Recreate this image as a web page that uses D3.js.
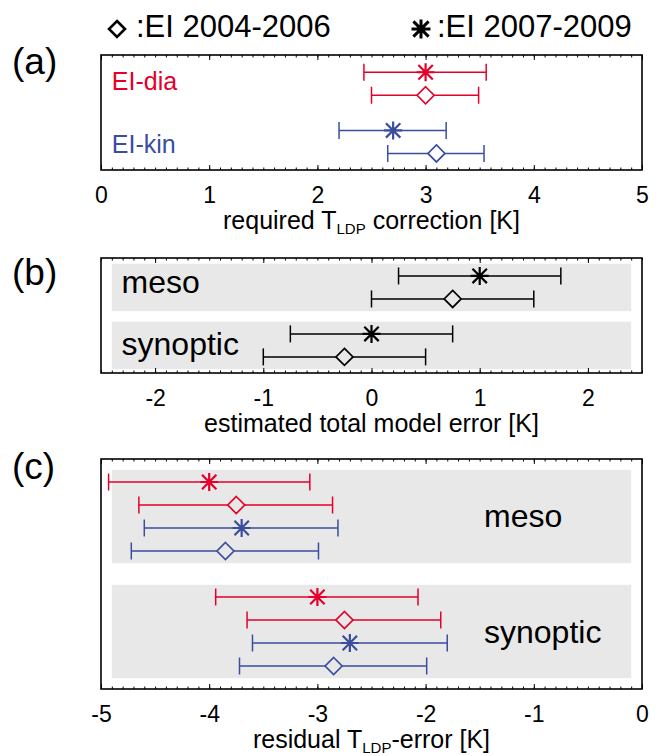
<!DOCTYPE html>
<html>
<head>
<meta charset="utf-8">
<script src="https://cdn.jsdelivr.net/npm/d3@7"></script>
<style>
  html, body { margin: 0; padding: 0; background: #fff; }
  svg { display: block; font-family: "Liberation Sans", Arial, Helvetica, sans-serif; }
</style>
</head>
<body>
<svg id="chart" width="660" height="756"></svg>
<script>
// ---------------- data ----------------
const periodDia = "EI 2004-2006";   // drawn as diamonds
const periodAst = "EI 2007-2009";   // drawn as asterisks

// (a) required T_LDP correction [K]
const corrScheme = ["EI-dia", "EI-dia", "EI-kin", "EI-kin"];
const corrPeriod = [periodAst, periodDia, periodAst, periodDia];
const corrMid    = [3.0, 3.0, 2.7, 3.1];
const corrLow    = [2.43, 2.5, 2.2, 2.65];
const corrHigh   = [3.56, 3.49, 3.19, 3.54];

// (b) estimated total model error [K]
const modelRegime = ["meso", "meso", "synoptic", "synoptic"];
const modelPeriod = [periodAst, periodDia, periodAst, periodDia];
const modelMid    = [1.0, 0.75, 0.0, -0.25];
const modelLow    = [0.25, 0.0, -0.75, -1.0];
const modelHigh   = [1.75, 1.5, 0.75, 0.5];

// (c) residual T_LDP-error [K]
const residRegime = ["meso", "meso", "meso", "meso", "synoptic", "synoptic", "synoptic", "synoptic"];
const residScheme = ["EI-dia", "EI-dia", "EI-kin", "EI-kin", "EI-dia", "EI-dia", "EI-kin", "EI-kin"];
const residPeriod = [periodAst, periodDia, periodAst, periodDia, periodAst, periodDia, periodAst, periodDia];
const residMid    = [-4.0, -3.75, -3.7, -3.85, -3.0, -2.75, -2.7, -2.85];
const residLow    = [-4.93, -4.65, -4.6, -4.72, -3.94, -3.65, -3.6, -3.72];
const residHigh   = [-3.07, -2.86, -2.81, -2.99, -2.07, -1.86, -1.8, -1.99];

const schemes = ["EI-dia", "EI-kin"];
const regimes = ["meso", "synoptic"];

const ticksA = [0, 1, 2, 3, 4, 5];
const ticksB = [-2, -1, 0, 1, 2];
const ticksC = [-5, -4, -3, -2, -1, 0];

// ---------------- styling ----------------
const schemeColor = { "EI-dia": "#e4002b", "EI-kin": "#3a4d9e" };
const black = "#000";
const bandFill = "#e8e8e8";
const frameLeft = 101, frameRight = 642;
const unitPx = 23;        // vertical spacing between rows

const svg = d3.select("#chart");

// asterisk marker: horizontal, vertical and two diagonal arms
function asteriskPath(r) {
  const d = r * 0.8;
  return `M${-r},0L${r},0M0,${-r}L0,${r}M${-d},${-d}L${d},${d}M${-d},${d}L${d},${-d}`;
}
function diamondPath(r) {
  return `M0,${-r}L${r},0L0,${r}L${-r},0Z`;
}

function drawPanel(cfg) {
  const x = d3.scaleLinear().domain(cfg.domain).range([frameLeft, frameRight]);
  const y = d3.scaleLinear().domain([0, cfg.units]).range([cfg.top, cfg.top + cfg.units * unitPx]);
  const bottom = y(cfg.units);
  const g = svg.append("g");

  // grey bands behind each group
  if (cfg.bands) {
    cfg.groupCenters.forEach(c => {
      const half = cfg.rowsPerGroup / 2 + 0.03;
      g.append("rect")
        .attr("x", x(cfg.domain[0] + 0.1))
        .attr("y", y(c - half))
        .attr("width", x(cfg.domain[1] - 0.1) - x(cfg.domain[0] + 0.1))
        .attr("height", y(c + half) - y(c - half))
        .attr("fill", bandFill);
    });
  }

  // group labels
  cfg.labels.forEach(l => {
    g.append("text")
      .attr("x", x(l.x))
      .attr("y", y(l.y))
      .attr("font-size", l.size)
      .attr("fill", l.color)
      .text(l.text);
  });

  // error bars + markers
  const r = 8.5, cap = 8.5;
  cfg.rows.forEach(d => {
    const cy = y(cfg.groupCenters[d.group] + d.slot - (cfg.rowsPerGroup - 1) / 2);
    const cx = x(d.mid);
    const eb = g.append("g").attr("stroke", d.color).attr("stroke-width", 1.5).attr("fill", "none");
    if (d.period === periodDia) {
      eb.append("line").attr("x1", x(d.lo)).attr("x2", cx - r).attr("y1", cy).attr("y2", cy);
      eb.append("line").attr("x1", cx + r).attr("x2", x(d.hi)).attr("y1", cy).attr("y2", cy);
    } else {
      eb.append("line").attr("x1", x(d.lo)).attr("x2", x(d.hi)).attr("y1", cy).attr("y2", cy);
    }
    eb.append("line").attr("x1", x(d.lo)).attr("x2", x(d.lo)).attr("y1", cy - cap).attr("y2", cy + cap);
    eb.append("line").attr("x1", x(d.hi)).attr("x2", x(d.hi)).attr("y1", cy - cap).attr("y2", cy + cap);
    if (d.period === periodDia) {
      eb.append("path").attr("d", diamondPath(r)).attr("transform", `translate(${cx},${cy})`)
        .attr("stroke-width", 1.7);
    } else {
      eb.append("path").attr("d", asteriskPath(9)).attr("transform", `translate(${cx},${cy})`)
        .attr("stroke-width", 2.2);
    }
  });

  // axes: inward major/minor ticks on top and bottom, labels below
  const minor = d3.range(0, Math.round((cfg.domain[1] - cfg.domain[0]) * 10) + 1)
    .map(i => cfg.domain[0] + i * 0.1);
  const addAxis = (axis, ty) => {
    const a = g.append("g").attr("transform", `translate(0,${ty})`).call(axis);
    a.select(".domain").remove();
    a.selectAll("line").attr("stroke", "#000").attr("stroke-width", 1);
    return a;
  };
  addAxis(d3.axisBottom(x).tickValues(minor).tickSize(-2.5).tickFormat(""), bottom);
  addAxis(d3.axisTop(x).tickValues(minor).tickSize(-2.5).tickFormat(""), cfg.top);
  addAxis(d3.axisTop(x).tickValues(cfg.ticks).tickSize(-5).tickFormat(""), cfg.top);
  const ax = addAxis(d3.axisBottom(x).tickValues(cfg.ticks).tickSize(-5).tickPadding(17)
    .tickFormat(d3.format("d")), bottom);
  ax.selectAll("text")
    .attr("font-size", 23)
    .attr("font-family", "Liberation Sans, Arial, sans-serif")
    .attr("fill", "#000")
    .text(d => String(d));

  // frame
  g.append("rect")
    .attr("x", frameLeft).attr("y", cfg.top)
    .attr("width", frameRight - frameLeft).attr("height", bottom - cfg.top)
    .attr("fill", "none").attr("stroke", "#000").attr("stroke-width", 1.6);

  // axis title (with optional subscript)
  const t = g.append("text")
    .attr("x", (frameLeft + frameRight) / 2)
    .attr("y", bottom + 59)
    .attr("text-anchor", "middle")
    .attr("font-size", 25)
    .attr("fill", "#000");
  cfg.title.forEach(part => {
    if (part.sub) {
      t.append("tspan").attr("font-size", 15).attr("dy", 5).text(part.sub);
    } else {
      t.append("tspan").attr("font-size", 25).attr("dy", part.after ? -5 : 0).text(part.text);
    }
  });

  // panel letter
  svg.append("text")
    .attr("x", 12).attr("y", cfg.top + cfg.letterDy)
    .attr("font-size", 37)
    .text(cfg.letter);
}

// ---- panel (a)
drawPanel({
  top: 55, units: 5, domain: [0, 5], ticks: ticksA, letter: "(a)", letterDy: 19,
  bands: false, rowsPerGroup: 2, groupCenters: [1.25, 3.78],
  rows: corrMid.map((m, i) => ({
    group: schemes.indexOf(corrScheme[i]), slot: i % 2, mid: m, lo: corrLow[i], hi: corrHigh[i],
    period: corrPeriod[i], color: schemeColor[corrScheme[i]]
  })),
  labels: schemes.map((s, i) => ({ text: s, x: 0.1, y: [1.52, 4.27][i], size: 25, color: schemeColor[s] })),
  title: [{ text: "required T" }, { sub: "LDP" }, { text: " correction [K]", after: true }]
});

// ---- panel (b)
drawPanel({
  top: 258, units: 5, domain: [-2.5, 2.5], ticks: ticksB, letter: "(b)", letterDy: 27,
  bands: true, rowsPerGroup: 2, groupCenters: [1.28, 3.8],
  rows: modelMid.map((m, i) => ({
    group: regimes.indexOf(modelRegime[i]), slot: i % 2, mid: m, lo: modelLow[i], hi: modelHigh[i],
    period: modelPeriod[i], color: black
  })),
  labels: regimes.map((s, i) => ({ text: s, x: -2.31, y: [1.52, 4.22][i], size: 32, color: "#000" })),
  title: [{ text: "estimated total model error [K]" }]
});

// ---- panel (c)
drawPanel({
  top: 459, units: 10, domain: [-5, 0], ticks: ticksC, letter: "(c)", letterDy: 20,
  bands: true, rowsPerGroup: 4, groupCenters: [2.5, 7.5],
  rows: residMid.map((m, i) => ({
    group: regimes.indexOf(residRegime[i]), slot: i % 4, mid: m, lo: residLow[i], hi: residHigh[i],
    period: residPeriod[i], color: schemeColor[residScheme[i]]
  })),
  labels: regimes.map((s, i) => ({ text: s, x: -1.46, y: [2.96, 7.98][i], size: 32, color: "#000" })),
  title: [{ text: "residual T" }, { sub: "LDP" }, { text: "-error [K]", after: true }]
});

// ---- legend
const legend = svg.append("g").attr("font-size", 31);
legend.append("path").attr("d", diamondPath(8)).attr("transform", "translate(117,29)")
  .attr("fill", "none").attr("stroke", "#000").attr("stroke-width", 2.6);
legend.append("text").attr("x", 136).attr("y", 37).text(":" + periodDia);
legend.append("path").attr("d", asteriskPath(9.5)).attr("transform", "translate(421,29)")
  .attr("fill", "none").attr("stroke", "#000").attr("stroke-width", 3);
legend.append("text").attr("x", 437).attr("y", 37).text(":" + periodAst);
</script>
</body>
</html>
